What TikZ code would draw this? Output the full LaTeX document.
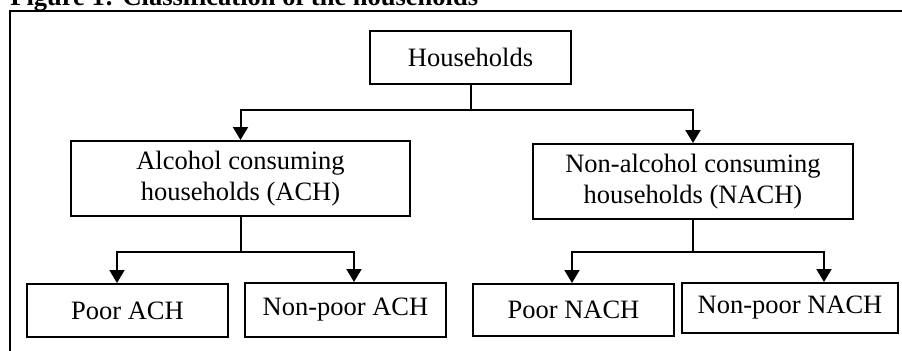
\documentclass[tikz,border=0pt]{standalone}
\usepackage{fontspec}
\setmainfont{Liberation Serif}
\usetikzlibrary{arrows.meta,calc}
\begin{document}
\begin{tikzpicture}[x=0.5pt,y=-0.5pt,
  txt/.style={font=\fontsize{13.25pt}{15.5pt}\selectfont},
  box/.style={txt,draw,line width=1pt,inner sep=0pt,align=center},
  conn/.style={line width=1pt},
  arr/.style={conn,-{Triangle[width=7.5pt,length=6.5pt]}}]
\useasboundingbox (0,0) rectangle (902,350);
\clip (0,0) rectangle (902,350);
% outer frame
\draw[line width=1pt] (10,370) -- (10,11) -- (920,11);
% title
\node[txt,anchor=base west,inner sep=0pt,font=\fontsize{13.25pt}{15.5pt}\selectfont\bfseries] (title) at (10,5) {Figure 1: Classification of the households};
% nodes
\node[box,minimum width=100.5pt,minimum height=26.5pt] (hh) at (470.5,57.5) {Households};
\node[box,minimum width=169.5pt,minimum height=37.5pt] (ach) at (240.5,178.5) {Alcohol consuming\\households (ACH)};
\node[box,minimum width=160pt,minimum height=37.5pt] (nach) at (693,181.5) {Non-alcohol consuming\\households (NACH)};
\node[box,minimum width=100.5pt,minimum height=26.5pt] (pach) at (127.5,310.5) {Poor ACH};
\node[box,minimum width=100.5pt,minimum height=27pt] (npach) at (345.5,310) {Non-poor ACH};
\node[box,minimum width=100.5pt,minimum height=26pt] (pnach) at (573.5,310) {Poor NACH};
\node[box,minimum width=108pt,minimum height=25pt] (npnach) at (790,308) {Non-poor NACH};
% connectors
\coordinate (j0) at ($(hh.south)+(0,25)$);
\draw[conn] (hh.south) -- (j0);
\draw[arr] (j0) -| (ach.north);
\draw[arr] (j0) -| (nach.north);
\coordinate (j1) at ($(ach.south)+(0,35)$);
\draw[conn] (ach.south) -- (j1);
\draw[arr] (j1) -| ([xshift=-5.25pt]pach.north);
\draw[arr] (j1) -| ([xshift=4.25pt]npach.north);
\coordinate (j2) at ($(nach.south)+(0,32)$);
\draw[conn] (nach.south) -- (j2);
\draw[arr] (j2) -| ([xshift=-0.75pt]pnach.north);
\draw[arr] (j2) -| ([xshift=17pt]npnach.north);
\end{tikzpicture}
\end{document}
